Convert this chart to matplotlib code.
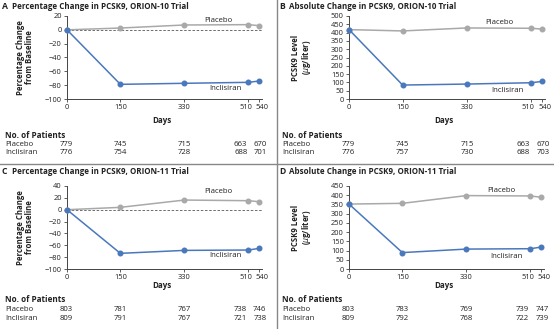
import matplotlib
matplotlib.use("Agg")
import matplotlib.pyplot as plt
from matplotlib.transforms import blended_transform_factory, ScaledTranslation
from matplotlib.lines import Line2D

plt.rcParams['font.family'] = ['Open Sans', 'DejaVu Sans']

days = [0, 150, 330, 510, 540]
day_ticks = [0, 150, 330, 510, 540]

# Panel A: percentage change, ORION-10
a_placebo = [0, 2.6, 7, 7.5, 6]
a_inclisiran = [0, -78.8, -77.3, -75.9, -74]
a_n_placebo = [779, 745, 715, 663, 670]
a_n_inclisiran = [776, 754, 728, 688, 701]

# Panel B: absolute PCSK9, ORION-10
b_placebo = [418, 410, 428, 426, 421]
b_inclisiran = [418, 84, 90, 98, 106]
b_n_placebo = [779, 745, 715, 663, 670]
b_n_inclisiran = [776, 757, 730, 688, 703]

# Panel C: percentage change, ORION-11
c_placebo = [0, 4, 16.3, 15.2, 13.5]
c_inclisiran = [0, -73.6, -68.6, -68, -65.2]
c_n_placebo = [803, 781, 767, 738, 746]
c_n_inclisiran = [809, 791, 767, 721, 738]

# Panel D: absolute PCSK9, ORION-11
d_placebo = [352, 356, 398, 396, 389]
d_inclisiran = [352, 89, 108, 110, 119]
d_n_placebo = [803, 783, 769, 739, 747]
d_n_inclisiran = [809, 792, 768, 722, 739]

W, H = 554, 329
fig = plt.figure(figsize=(W / 100, H / 100), dpi=100)

GRAY = '#a9a9a9'
BLUE = '#4a78bd'
TXT = '#222222'
AX = '#444444'
TICK_FS = 5.4
TXT_FS = 5.6

def px_axes(x0, x1, ytop, ybot):
    return fig.add_axes([x0 / W, (H - ybot) / H, (x1 - x0) / W, (ybot - ytop) / H])

panels = [
    dict(letter='A', title='Percentage Change in PCSK9, ORION-10 Trial', ox=0, oy=0,
         x0=67, x1=262, ytop=16, ybot=99, ylim=(-100, 20), yticks=range(-100, 21, 20),
         plc=a_placebo, inc=a_inclisiran, np_=a_n_placebo, ni=a_n_inclisiran,
         ylabel='Percentage Change\nfrom Baseline', zero=True,
         plab=(425, 12.8), ilab=(444, -85.5)),
    dict(letter='B', title='Absolute Change in PCSK9, ORION-10 Trial', ox=277, oy=0,
         x0=349, x1=545, ytop=16, ybot=99, ylim=(0, 500), yticks=range(0, 501, 50),
         plc=b_placebo, inc=b_inclisiran, np_=b_n_placebo, ni=b_n_inclisiran,
         ylabel='PCSK9 Level\n($\\mu$g/liter)', zero=False,
         plab=(420, 458), ilab=(443, 54)),
    dict(letter='C', title='Percentage Change in PCSK9, ORION-11 Trial', ox=0, oy=165,
         x0=67, x1=262, ytop=186, ybot=269, ylim=(-100, 40), yticks=range(-100, 41, 20),
         plc=c_placebo, inc=c_inclisiran, np_=c_n_placebo, ni=c_n_inclisiran,
         ylabel='Percentage Change\nfrom Baseline', zero=True,
         plab=(425, 30), ilab=(444, -78)),
    dict(letter='D', title='Absolute Change in PCSK9, ORION-11 Trial', ox=277, oy=165,
         x0=349, x1=544, ytop=186, ybot=269, ylim=(0, 450), yticks=range(0, 451, 50),
         plc=d_placebo, inc=d_inclisiran, np_=d_n_placebo, ni=d_n_inclisiran,
         ylabel='PCSK9 Level\n($\\mu$g/liter)', zero=False,
         plab=(429, 428), ilab=(443, 70)),
]

for p in panels:
    ax = px_axes(p['x0'], p['x1'], p['ytop'], p['ybot'])
    ax.set_xlim(0, 548)
    ax.set_ylim(*p['ylim'])
    ax.patch.set_alpha(0)
    for s in ('top', 'right'):
        ax.spines[s].set_visible(False)
    for s in ('left', 'bottom'):
        ax.spines[s].set_color(AX)
        ax.spines[s].set_linewidth(0.7)
    ax.set_xticks(day_ticks)
    ax.set_xticklabels([str(d) for d in day_ticks])
    ax.set_yticks(list(p['yticks']))
    ax.set_yticklabels([str(v).replace('-', '\u2212') for v in p['yticks']])
    ax.tick_params(axis='both', length=2.5, width=0.6, color=AX, labelsize=TICK_FS,
                   labelcolor=TXT, pad=1.2)
    # nudge the two crowded labels apart, as in the original
    xl = ax.get_xticklabels()
    for lab, dx in ((xl[3], -3.0), (xl[4], 2.5)):
        lab.set_transform(lab.get_transform() +
                          ScaledTranslation(dx / 100, 0, fig.dpi_scale_trans))
    if p['zero']:
        ax.axhline(0, color='#555555', lw=0.6, ls=(0, (3, 2)), zorder=1)
    ax.plot(days, p['plc'], color=GRAY, lw=1.1, marker='o', ms=3.3,
            mfc=GRAY, mec=GRAY, zorder=3, clip_on=False)
    ax.plot(days, p['inc'], color=BLUE, lw=1.1, marker='o', ms=3.3,
            mfc=BLUE, mec=BLUE, zorder=4, clip_on=False)
    ax.text(*p['plab'], 'Placebo', fontsize=TXT_FS, color=TXT, ha='center', va='center')
    ax.text(*p['ilab'], 'Inclisiran', fontsize=TXT_FS, color=TXT, ha='center', va='center')

    ox, oy = p['ox'], p['oy']
    # title
    fig.text((ox + 2) / W, 1 - (oy + 6.5) / H, p['letter'], fontsize=6.2,
             fontweight='bold', color=TXT, va='center')
    fig.text((ox + 12) / W, 1 - (oy + 6.5) / H, p['title'], fontsize=5.8,
             fontweight='bold', color=TXT, va='center')
    # y label
    fig.text((ox + 25) / W, 1 - ((p['ytop'] + p['ybot']) / 2) / H, p['ylabel'],
             fontsize=5.6, fontweight='bold', color=TXT, rotation=90,
             ha='center', va='center', linespacing=1.0)
    # x label
    fig.text(((p['x0'] + p['x1']) / 2 - 3) / W, 1 - (oy + 120) / H, 'Days',
             fontsize=5.8, fontweight='bold', color=TXT, ha='center', va='center')
    # patients table
    fig.text((ox + 5) / W, 1 - (oy + 135) / H, 'No. of Patients', fontsize=5.9,
             fontweight='bold', color=TXT, va='center')
    fig.text((ox + 5) / W, 1 - (oy + 144.5) / H, 'Placebo', fontsize=TXT_FS,
             color=TXT, va='center')
    fig.text((ox + 5) / W, 1 - (oy + 153) / H, 'Inclisiran', fontsize=TXT_FS,
             color=TXT, va='center')
    tr = blended_transform_factory(ax.transData, fig.transFigure)
    for i, d in enumerate(days):
        nudge = -22 if d == 510 else (2 if d == 540 else -3 if d == 0 else 0)
        for row, vals in ((144.5, p['np_']), (153, p['ni'])):
            ax.text(d + nudge, 1 - (oy + row) / H, str(vals[i]), transform=tr,
                    fontsize=TXT_FS, color=TXT, ha='center', va='center')

# separators
fig.add_artist(Line2D([276.5 / W, 276.5 / W], [0, 1], color='#888888', lw=1.0,
                      transform=fig.transFigure))
fig.add_artist(Line2D([0, 1], [1 - 163.5 / H, 1 - 163.5 / H], color='#888888', lw=1.0,
                      transform=fig.transFigure))

fig.savefig('out.png', dpi=100)
